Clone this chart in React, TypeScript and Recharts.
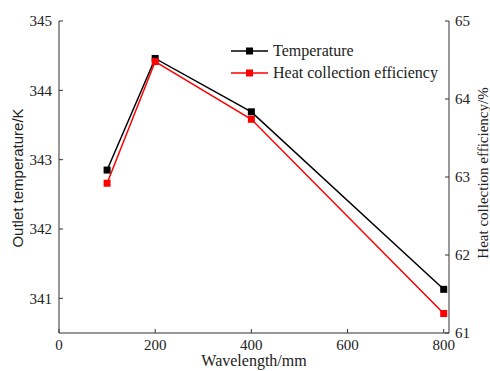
import React from "react";
import { LineChart, Line, XAxis, YAxis } from "recharts";

const wavelength = [100, 200, 400, 800];
const temperature = [342.85, 344.46, 343.69, 341.13];
const efficiency = [62.92, 64.48, 63.74, 61.25];

const xTicks = [0, 200, 400, 600, 800];
const tempTicks = [341, 342, 343, 344, 345];
const effTicks = [61, 62, 63, 64, 65];

const data = wavelength.map((w, i) => ({
  wavelength: w,
  temperature: temperature[i],
  efficiency: efficiency[i],
}));

const FONT = "'Liberation Serif', 'Times New Roman', serif";
const SANS = "'Liberation Sans', Arial, sans-serif";
const AXIS = "#333333";
const TEXT = "#222222";

function squareDot(color: string) {
  return (props: any) => {
    const { cx, cy, index } = props;
    if (cx == null || cy == null) return <g key={index} />;
    return (
      <rect
        key={index}
        x={cx - 3.5}
        y={cy - 3.5}
        width={7}
        height={7}
        fill={color}
      />
    );
  };
}

function LegendBox() {
  const rows = [
    { label: "Temperature", color: "#000000" },
    { label: "Heat collection efficiency", color: "#ff0000" },
  ];
  return (
    <div
      style={{
        position: "absolute",
        left: 229,
        top: 40,
        fontFamily: FONT,
        fontSize: 16,
        color: TEXT,
        lineHeight: "22px",
      }}
    >
      {rows.map((r) => (
        <div
          key={r.label}
          style={{ display: "flex", alignItems: "center", height: 22 }}
        >
          <svg width={42} height={10} style={{ marginRight: 2 }}>
            <line x1={2} y1={5} x2={39} y2={5} stroke={r.color} strokeWidth={1.5} />
            <rect x={17} y={1.5} width={7} height={7} fill={r.color} />
          </svg>
          <span>{r.label}</span>
        </div>
      ))}
    </div>
  );
}

export default function App() {
  const tick = { fontSize: 15, fill: TEXT, fontFamily: FONT };
  const labelStyle = { fontSize: 16, fill: TEXT, fontFamily: FONT, textAnchor: "middle" };
  return (
    <div style={{ position: "absolute", left: 0, top: 0, width: 490, height: 371, background: "#fff" }}>
      <LineChart
        width={490}
        height={371}
        data={data}
        margin={{ top: 21, right: 0, bottom: 0, left: 0 }}
      >
        <XAxis
          dataKey="wavelength"
          type="number"
          domain={[0, 811]}
          ticks={xTicks}
          height={38}
          tick={tick}
          tickSize={-4}
          tickMargin={10}
          stroke={AXIS}
          allowDataOverflow
          label={{
            value: "Wavelength/mm",
            position: "insideBottom",
            offset: 0,
            dy: -5,
            style: labelStyle,
          }}
        />
        <YAxis
          yAxisId="left"
          orientation="left"
          domain={[340.5, 345]}
          ticks={tempTicks}
          width={59}
          tick={tick}
          tickSize={-4}
          tickMargin={11}
          stroke={AXIS}
          allowDataOverflow
          label={{
            value: "Outlet temperature/K",
            angle: -90,
            position: "insideLeft",
            offset: 0,
            dx: 18,
            dy: 1,
            style: { ...labelStyle, fontFamily: SANS, fontSize: 15 },
          }}
        />
        <YAxis
          yAxisId="right"
          orientation="right"
          domain={[61, 65]}
          ticks={effTicks}
          width={41}
          tick={tick}
          tickSize={-4}
          tickMargin={10}
          stroke={AXIS}
          allowDataOverflow
          label={{
            value: "Heat collection efficiency/%",
            angle: -90,
            position: "insideRight",
            offset: 0,
            dx: -7,
            dy: -4,
            style: { ...labelStyle, fontSize: 15 },
          }}
        />
        <Line
          yAxisId="left"
          dataKey="temperature"
          stroke="#000000"
          strokeWidth={1.5}
          dot={squareDot("#000000")}
          activeDot={false}
          isAnimationActive={false}
        />
        <Line
          yAxisId="right"
          dataKey="efficiency"
          stroke="#ff0000"
          strokeWidth={1.5}
          dot={squareDot("#ff0000")}
          activeDot={false}
          isAnimationActive={false}
        />
      </LineChart>
      <LegendBox />
    </div>
  );
}
